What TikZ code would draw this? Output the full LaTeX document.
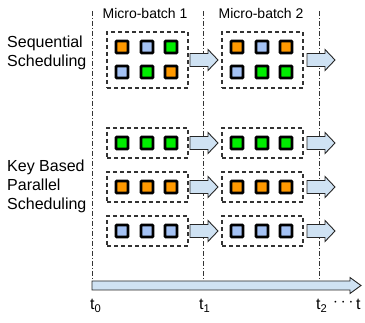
\documentclass[tikz,border=0pt]{standalone}
\usepackage{fontspec}
\setmainfont{Liberation Sans}
\definecolor{cO}{HTML}{FF9900}
\definecolor{cB}{HTML}{A4C2F4}
\definecolor{cG}{HTML}{00EE00}
\definecolor{cA}{HTML}{CFE2F3}
\tikzset{
  sq/.style={draw=black, line width=2.6pt, minimum size=12pt, inner sep=0pt, rounded corners=0.8pt},
  batch/.style={draw=black!80, line width=1.1pt, dash pattern=on 4pt off 3pt, inner sep=0pt},
  tline/.style={draw=black!80, line width=0.9pt, dash pattern=on 5pt off 2pt on 1pt off 2pt},
  flowline/.style={draw=black!85, fill=cA, line width=0.9pt, line join=miter},
  lbl/.style={font=\fontsize{16}{19}\selectfont, align=left, anchor=west, inner sep=0pt},
  mb/.style={font=\fontsize{14}{16}\selectfont, inner sep=0pt},
  tl/.style={font=\fontsize{16}{19}\selectfont, inner sep=0pt, anchor=west}
}
\newcommand{\flowarrow}[1]{%
  \draw[flowline] ($(#1)+(-14,-6.5)$) -- ($(#1)+(4,-6.5)$) -- ($(#1)+(4,-10.5)$) -- ($(#1)+(14,0)$) -- ($(#1)+(4,10.5)$) -- ($(#1)+(4,6.5)$) -- ($(#1)+(-14,6.5)$) -- cycle;}
\usetikzlibrary{calc}
\begin{document}
\begin{tikzpicture}[x=1pt,y=-1pt]
\useasboundingbox (0,0) rectangle (365,323);
% time lines
\coordinate (l0t) at (92,11); \coordinate (l0b) at (92,281);
\coordinate (l1t) at (203,11); \coordinate (l1b) at (203,281);
\coordinate (l2t) at (319,11); \coordinate (l2b) at (319,281);
\draw[tline] (l0t) -- (l0b);
\draw[tline] (l1t) -- (l1b);
\draw[tline] (l2t) -- (l2b);
% titles
\node[mb] (mb1) at (145,13) {Micro-batch 1};
\node[mb] (mb2) at (261,13) {Micro-batch 2};
\node[lbl] (seq) at (7,53) {Sequential\\Scheduling};
\node[lbl] (key) at (7,186) {Key Based\\Parallel\\Scheduling};
% boxes
\node[batch, minimum width=81pt, minimum height=56pt] (s1) at (147.5,60) {};
\node[batch, minimum width=81pt, minimum height=56pt] (s2) at (262.5,60) {};
\foreach \r/\y in {1/143,2/187,3/231}{
  \node[batch, minimum width=81pt, minimum height=30pt] (k1\r) at (147.5,\y) {};
  \node[batch, minimum width=81pt, minimum height=30pt] (k2\r) at (262.5,\y) {};
}
% squares sequential
\node[sq, fill=cO] (a11) at (122,47) {};
\node[sq, fill=cB] (a12) at (147,47) {};
\node[sq, fill=cG] (a13) at (171,47) {};
\node[sq, fill=cB] (a21) at (122,72) {};
\node[sq, fill=cG] (a22) at (147,72) {};
\node[sq, fill=cO] (a23) at (171,72) {};
\node[sq, fill=cO] (b11) at (237,47) {};
\node[sq, fill=cB] (b12) at (262,47) {};
\node[sq, fill=cO] (b13) at (286,47) {};
\node[sq, fill=cB] (b21) at (237,72) {};
\node[sq, fill=cG] (b22) at (262,72) {};
\node[sq, fill=cG] (b23) at (286,72) {};
% squares key based
\foreach \r/\y/\c in {1/143/cG,2/187/cO,3/231/cB}{
  \foreach \i/\x in {1/122,2/147,3/171}{
    \node[sq, fill=\c] (p\r\i) at (\x,\y) {};
  }
  \foreach \i/\x in {1/237,2/262,3/286}{
    \node[sq, fill=\c] (q\r\i) at (\x,\y) {};
  }
}
% flow arrows
\coordinate (fs1) at (204,60);
\coordinate (fs2) at (321,60);
\flowarrow{fs1}
\flowarrow{fs2}
\foreach \r/\y in {1/143,2/187,3/231}{
  \coordinate (fk1\r) at (204,\y);
  \coordinate (fk2\r) at (321,\y);
  \flowarrow{fk1\r}
  \flowarrow{fk2\r}
}
% time axis
\coordinate (ax0) at (92,285.5);
\coordinate (ax1) at (361,285.5);
\draw[flowline] ($(ax0)+(0,-4.5)$) -- ($(ax1)+(-11,-4.5)$) -- ($(ax1)+(-11,-8)$) -- (ax1) -- ($(ax1)+(-11,8)$) -- ($(ax1)+(-11,4.5)$) -- ($(ax0)+(0,4.5)$) -- cycle;
% labels
\node[tl] (t0) at (90,306) {t$_{\mathrm{0}}$};
\node[tl] (t1) at (199,306) {t$_{\mathrm{1}}$};
\node[tl] (t2) at (316,306) {t$_{\mathrm{2}}$};
\node[tl] (dots) at (333,303) {$\cdots$};
\node[tl] (tt) at (356,304) {t};
\end{tikzpicture}
\end{document}
